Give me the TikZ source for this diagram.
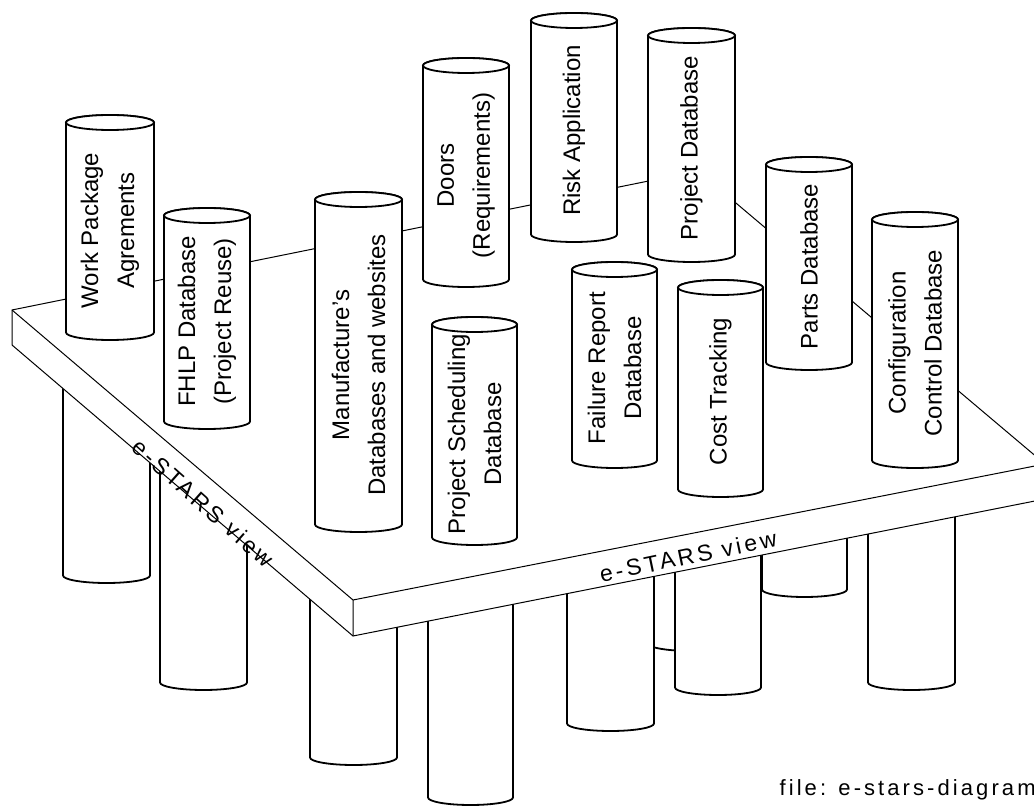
\documentclass[tikz,border=0pt]{standalone}
\usepackage{fontspec}
\setmainfont{Liberation Sans}

\begin{document}
\begin{tikzpicture}[x=0.5pt, y=-0.5pt,
  cylline/.style={draw=black, fill=white, line width=0.9pt},
  dblabel/.style={rotate=90, inner sep=0pt, align=center, font=\fontsize{12}{18}\selectfont},
  slab/.style={draw=black, fill=white, line width=0.5pt},
  viewlabel/.style={font=\fontsize{11.5}{13}\selectfont\addfontfeatures{LetterSpace=14}, inner sep=0pt}]
\useasboundingbox (0,0) rectangle (1034,807);

% Legs under the slab (only their lower parts show)
\foreach \xl/\xr/\yt/\yb in {648/735/240/651, 762/847/350/597, 63/150/320/583, 160/247/410/690, 868/955/450/690, 567/654/450/731, 675/761/480/695, 310/397/515/765, 428/513/530/805} {
  \pgfmathsetmacro\rx{(\xr-\xl)/4}
  \draw[cylline] (\xl,\yt+7.5) -- (\xl,\yb-7.5) arc[start angle=180, end angle=360, x radius=\rx pt, y radius=3.75pt] -- (\xr,\yt+7.5) arc[start angle=0, end angle=180, x radius=\rx pt, y radius=3.75pt] -- cycle;
}

% The e-STARS slab
\coordinate (sL) at (12,310);
\coordinate (sB) at (698,171);
\coordinate (sR) at (1045,464);
\coordinate (sF) at (353,600);
\coordinate (sL2) at (12,345);
\coordinate (sF2) at (353,636);
\coordinate (sR2) at (1045,499);
\path[slab] (sL) -- (sB) -- (sR) -- (sR2) -- (sF2) -- (sL2) -- cycle;
\draw[line width=0.5pt] (sL) -- (sF) -- (sR) (sF) -- (sF2);
\node[viewlabel, rotate=-41.5] (viewleft) at (203,503) {e-STARS view};
\node[viewlabel, rotate=11.8] (viewright) at (688,556) {e-STARS view};

% Databases standing on the slab, back to front
\foreach \n/\xl/\xr/\yt/\yb/\txt in {risk/531/617/13/242/{Risk Application},
  projdb/648/735/28/262/{Project Database},
  doors/423/509/58/287/{Doors\\(Requirements)},
  wpa/66/154/115/340/{Work Package\\Agrements},
  parts/766/852/157/370/{Parts Database},
  fhlp/164/250/208/429/{FHLP Database\\(Project Reuse)},
  config/872/958/212/468/{Configuration\\Control Database},
  failure/572/657/262/468/{Failure Report\\Database},
  cost/678/763/280/497/{Cost Tracking},
  manu/315/402/192/532/{Manufacture's\\Databases and websites},
  sched/432/517/317/545/{Project Scheduling\\Database}} {
  \pgfmathsetmacro\rx{(\xr-\xl)/4}
  \pgfmathsetmacro\cx{(\xl+\xr)/2}
  \draw[cylline] (\xl,\yt+7.5) -- (\xl,\yb-7.5) arc[start angle=180, end angle=360, x radius=\rx pt, y radius=3.75pt] -- (\xr,\yt+7.5) arc[start angle=0, end angle=180, x radius=\rx pt, y radius=3.75pt] -- cycle;
  \draw[cylline] (\cx,\yt+7.5) ellipse[x radius=\rx pt, y radius=3.75pt];
  \node[dblabel] (\n) at (\cx,{(\yt+\yb)/2+3}) {\txt};
}

\node[font=\fontsize{11}{13}\selectfont\addfontfeatures{LetterSpace=14}, anchor=base east, inner sep=0pt] (fname) at (1036,795) {file: e-stars-diagram};
\end{tikzpicture}
\end{document}
